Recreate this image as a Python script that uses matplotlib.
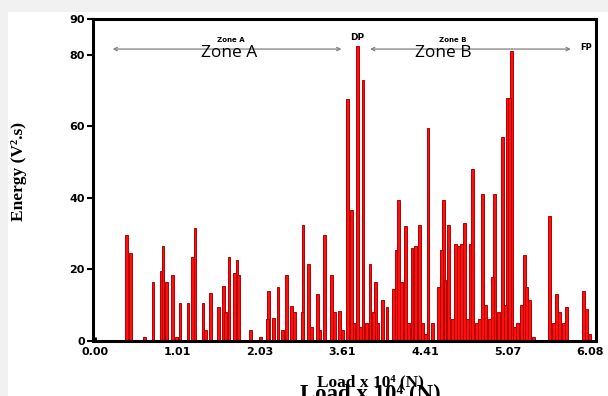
import numpy as np
import matplotlib.pyplot as plt
import matplotlib.patches as patches

# load position (in tick units of the original axis) and energy of each burst
load_pos = [0.376, 0.436, 0.594, 0.703, 0.800, 0.824, 0.861, 0.945, 0.982, 1.030,
            1.127, 1.176, 1.212, 1.309, 1.345, 1.394, 1.491, 1.552, 1.576, 1.624,
            1.685, 1.721, 1.745, 1.879, 2.000, 2.085, 2.097, 2.158, 2.218, 2.267,
            2.315, 2.376, 2.412, 2.509, 2.521, 2.582, 2.618, 2.691, 2.727, 2.776,
            2.861, 2.897, 2.958, 2.994, 3.055, 3.103, 3.139, 3.176, 3.212, 3.248,
            3.285, 3.333, 3.370, 3.394, 3.430, 3.479, 3.539, 3.612, 3.648, 3.673,
            3.709, 3.758, 3.794, 3.842, 3.879, 3.927, 3.964, 4.000, 4.036, 4.085,
            4.158, 4.194, 4.218, 4.242, 4.279, 4.327, 4.364, 4.400, 4.436, 4.473,
            4.509, 4.545, 4.570, 4.618, 4.655, 4.691, 4.727, 4.776, 4.812, 4.836,
            4.885, 4.933, 4.970, 4.994, 5.018, 5.042, 5.079, 5.115, 5.164, 5.200,
            5.224, 5.261, 5.309, 5.503, 5.552, 5.588, 5.624, 5.673, 5.709, 5.915,
            5.952, 5.988]
energy = [29.5, 24.5, 1, 16.5, 19.5, 26.5, 16.5, 18.5, 1, 10.5,
          10.5, 23.5, 31.5, 10.5, 3, 13.5, 9.5, 15.5, 8, 23.5,
          19, 22.5, 18.5, 3, 1, 6, 14, 6.5, 15, 3,
          18.5, 9.8, 8, 8, 32.5, 21.5, 4, 13, 3, 29.5,
          18.5, 8, 8.5, 3, 67.5, 36.5, 5, 82.5, 4, 73,
          5, 21.5, 8, 16.5, 5, 11.5, 9.5, 14.5, 25.5, 39.5,
          16.5, 32, 5, 26, 26.5, 32.5, 5, 2, 59.5, 5,
          15, 25.5, 39.5, 17, 32.5, 6, 27, 26.5, 27, 33,
          6, 27, 48, 5, 6, 41, 10, 6, 18, 41,
          8, 57, 10, 68, 68, 81, 4, 5, 10, 24,
          15, 11.5, 1, 35, 5, 13, 8, 5, 9.5, 14,
          9, 2]

tick_labels = ["0.00", "1.01", "2.03", "3.61", "4.41", "5.07", "6.08"]
y_ticks = [0, 20, 40, 60, 80, 90]

serif = ['Liberation Serif', 'DejaVu Serif']

fig = plt.figure(figsize=(6.08, 3.96), dpi=100, facecolor='#f1f1f1')
fig.patches.append(patches.Rectangle((0.013, 0), 0.987, 0.97, transform=fig.transFigure,
                                     facecolor='white', edgecolor='none', zorder=-5))
ax = fig.add_axes([0.153, 0.139, 0.827, 0.813])
ax.set_facecolor('white')

pos = np.array(load_pos)
val = np.array(energy)
order = np.argsort(-val)
ax.bar(pos[order], val[order], width=0.036, color='#ff1010', edgecolor='#b40000',
       linewidth=0.7, zorder=2)

ax.set_xlim(-0.024, 6.07)
ax.set_ylim(0, 90)
ax.set_xticks(range(len(tick_labels)))
ax.set_xticklabels(tick_labels)
ax.set_yticks(y_ticks)
for lab in ax.get_xticklabels() + ax.get_yticklabels():
    lab.set_fontweight('bold')
    lab.set_fontsize(8)
ax.tick_params(axis='x', direction='in', length=3, width=2, pad=4)
ax.tick_params(axis='y', direction='out', length=4, width=1.5, pad=2)
for s in ax.spines.values():
    s.set_linewidth(2.2)

# zone arrows
arrow_kw = dict(arrowstyle='<->', color='#808080', lw=0.9, mutation_scale=6)
ax.annotate('', xy=(0.18, 81.6), xytext=(3.02, 81.6), arrowprops=arrow_kw)
ax.annotate('', xy=(3.30, 81.6), xytext=(5.80, 81.6), arrowprops=arrow_kw)
ax.text(1.64, 84.0, 'Zone A', fontsize=5, fontweight='bold', ha='center', va='center')
ax.text(4.33, 84.0, 'Zone B', fontsize=5, fontweight='bold', ha='center', va='center')
ax.text(3.18, 84.8, 'DP', fontsize=6.5, fontweight='bold', ha='center', va='center')
ax.text(5.95, 82.0, 'FP', fontsize=6, fontweight='bold', ha='center', va='center')
ax.text(1.62, 80.5, 'Zone A', fontsize=12.5, ha='center', va='center', family='Open Sans')
ax.text(4.22, 80.5, 'Zone B', fontsize=12.5, ha='center', va='center', family='Open Sans')

fig.text(0.031, 0.568, 'Energy (V\u00b2.s)', rotation=90, ha='center', va='center',
         fontsize=12.5, fontweight='bold', family=serif)
fig.text(0.609, 0.035, 'Load x 10\u2074 (N)', ha='center', va='center',
         fontsize=12.5, fontweight='bold', family=serif)
fig.text(0.493, 0.003, 'Load x 10\u2074 (N)', ha='left', va='center',
         fontsize=16.5, fontweight='bold', family=serif)

fig.savefig('out.png', dpi=100, facecolor=fig.get_facecolor())
